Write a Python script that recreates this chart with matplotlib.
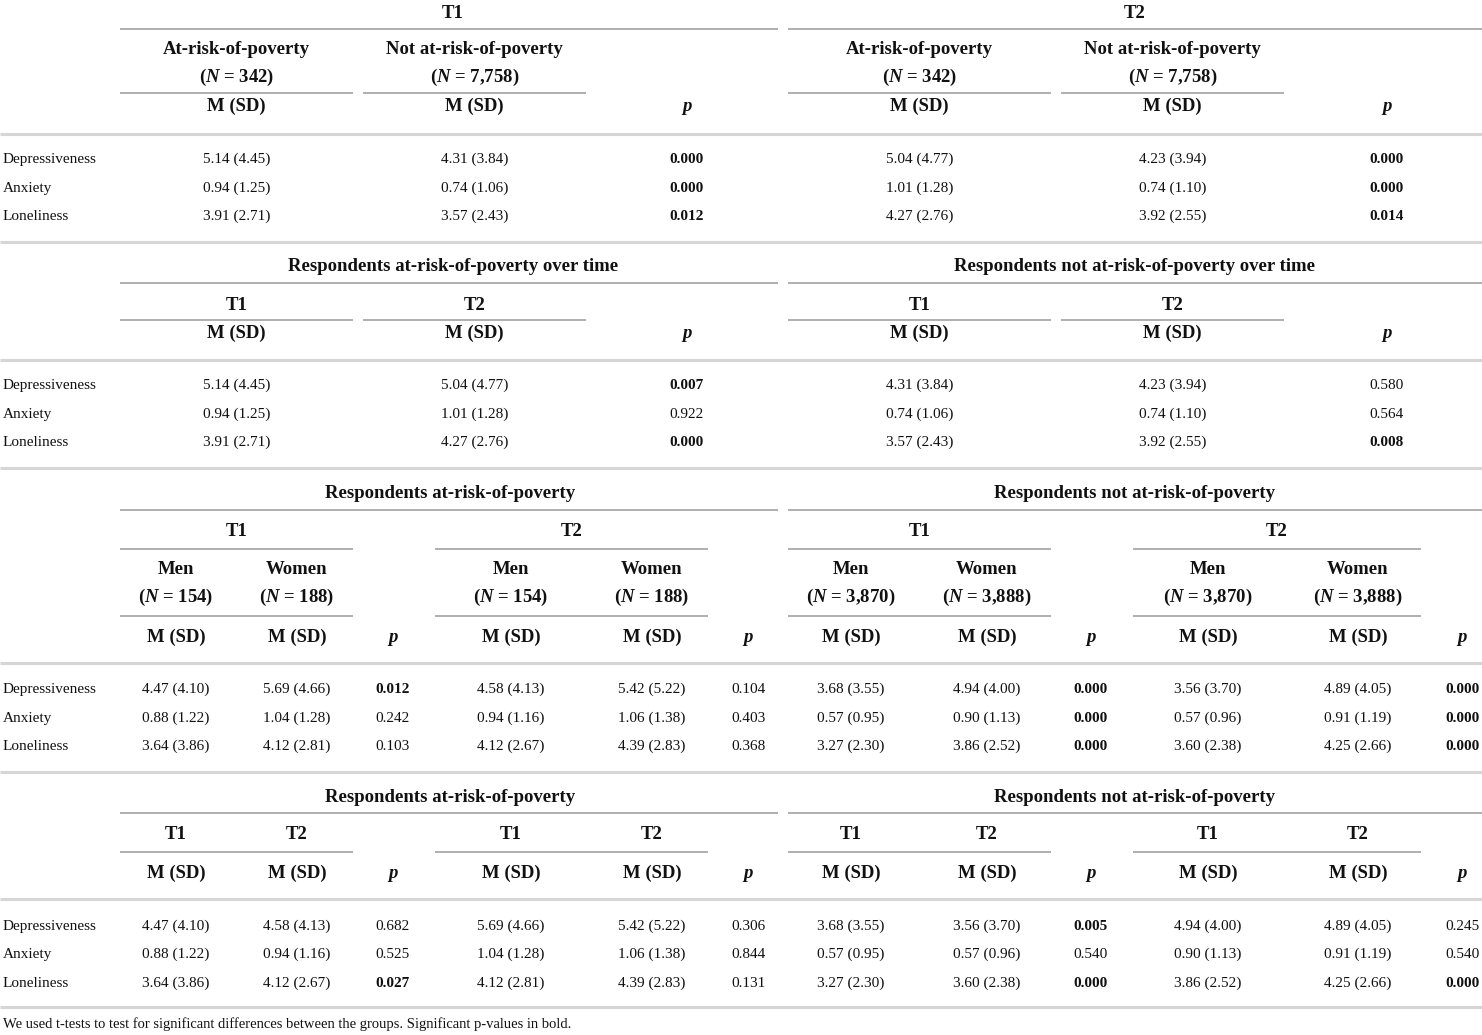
import matplotlib.pyplot as plt

plt.rcParams['font.family'] = ['Liberation Serif', 'DejaVu Serif']
plt.rcParams['mathtext.fontset'] = 'custom'
plt.rcParams['mathtext.rm'] = 'Liberation Serif:weight=bold'
plt.rcParams['mathtext.it'] = 'Liberation Serif:style=italic:weight=bold'
plt.rcParams['mathtext.bf'] = 'Liberation Serif:weight=bold'

# ---- data ----
rows = ["Depressiveness", "Anxiety", "Loneliness"]

n_at, n_not = "342", "7,758"
n_men_at, n_women_at = "154", "188"
n_men_not, n_women_not = "3,870", "3,888"

# whole groups
t1_at_m, t1_at_sd = [5.14, 0.94, 3.91], [4.45, 1.25, 2.71]
t1_not_m, t1_not_sd = [4.31, 0.74, 3.57], [3.84, 1.06, 2.43]
t2_at_m, t2_at_sd = [5.04, 1.01, 4.27], [4.77, 1.28, 2.76]
t2_not_m, t2_not_sd = [4.23, 0.74, 3.92], [3.94, 1.10, 2.55]
p_t1 = [0.000, 0.000, 0.012]
p_t2 = [0.000, 0.000, 0.014]
p_at_time = [0.007, 0.922, 0.000]
p_not_time = [0.580, 0.564, 0.008]

# by gender
men_at_t1_m, men_at_t1_sd = [4.47, 0.88, 3.64], [4.10, 1.22, 3.86]
women_at_t1_m, women_at_t1_sd = [5.69, 1.04, 4.12], [4.66, 1.28, 2.81]
men_at_t2_m, men_at_t2_sd = [4.58, 0.94, 4.12], [4.13, 1.16, 2.67]
women_at_t2_m, women_at_t2_sd = [5.42, 1.06, 4.39], [5.22, 1.38, 2.83]
men_not_t1_m, men_not_t1_sd = [3.68, 0.57, 3.27], [3.55, 0.95, 2.30]
women_not_t1_m, women_not_t1_sd = [4.94, 0.90, 3.86], [4.00, 1.13, 2.52]
men_not_t2_m, men_not_t2_sd = [3.56, 0.57, 3.60], [3.70, 0.96, 2.38]
women_not_t2_m, women_not_t2_sd = [4.89, 0.91, 4.25], [4.05, 1.19, 2.66]
p_at_t1_sex = [0.012, 0.242, 0.103]
p_at_t2_sex = [0.104, 0.403, 0.368]
p_not_t1_sex = [0.000, 0.000, 0.000]
p_not_t2_sex = [0.000, 0.000, 0.000]
p_at_men_time = [0.682, 0.525, 0.027]
p_at_women_time = [0.306, 0.844, 0.131]
p_not_men_time = [0.005, 0.540, 0.000]
p_not_women_time = [0.245, 0.540, 0.000]

footnote = "We used t-tests to test for significant differences between the groups. Significant p-values in bold."

# ---- drawing ----
W, H = 1482, 1035
fig = plt.figure(figsize=(W / 100, H / 100), dpi=100)
ax = fig.add_axes([0, 0, 1, 1])
ax.set_xlim(0, W)
ax.set_ylim(H, 0)
ax.axis("off")

HEAD = 13.5
BODY = 11


def txt(x, y, s, size=BODY, bold=False, italic=False, ha="center"):
    # y is the visual middle of digits / capitals; place on baseline
    ax.text(x, y + size * 0.46, s, fontsize=size, ha=ha, va="baseline",
            fontweight="bold" if bold else "normal",
            fontstyle="italic" if italic else "normal", color="#111111")


def head(x, y, s, italic=False):
    txt(x, y, s, HEAD, bold=True, italic=italic)


def rule(y):
    ax.plot([0, W], [y, y], color="#d6d6d6", lw=2.2, solid_capstyle="butt")


def span(x0, x1, y):
    ax.plot([x0, x1], [y, y], color="#a9a9a9", lw=1.3, solid_capstyle="butt")


def msd(m, sd):
    return ["%.2f (%.2f)" % (a, b) for a, b in zip(m, sd)]


def pcol(x, ys, ps):
    for y, p in zip(ys, ps):
        txt(x, y, "%.3f" % p, bold=p < 0.05)


def col(x, ys, vals):
    for y, v in zip(ys, vals):
        txt(x, y, v)


def labels(ys):
    for y, r in zip(ys, rows):
        txt(3, y, r, ha="left")


def nlab(n):
    return r"($\mathit{N}$ = %s)" % n


# column spans for the two-column halves (sections 1 and 2)
halves = [((120, 353), (363, 586), 687), ((788, 1051), (1061, 1284), 1387)]

# section 1: at-risk vs not at T1 and T2
head(453, 12, "T1")
head(1135, 12, "T2")
span(120, 778, 29)
span(788, W, 29)
ys = [158, 187, 215]
data1 = [(t1_at_m, t1_at_sd, t1_not_m, t1_not_sd, p_t1),
         (t2_at_m, t2_at_sd, t2_not_m, t2_not_sd, p_t2)]
for (c1, c2, xp), (m1, s1, m2, s2, pp) in zip(halves, data1):
    x1, x2 = sum(c1) / 2, sum(c2) / 2
    head(x1, 48, "At-risk-of-poverty")
    head(x2, 48, "Not at-risk-of-poverty")
    head(x1, 76, nlab(n_at))
    head(x2, 76, nlab(n_not))
    span(*c1, 93)
    span(*c2, 93)
    head(x1, 105, "M (SD)")
    head(x2, 105, "M (SD)")
    head(xp, 105, "p", italic=True)
    col(x1, ys, msd(m1, s1))
    col(x2, ys, msd(m2, s2))
    pcol(xp, ys, pp)
rule(134)
labels(ys)
rule(242)

# section 2: change over time
head(453, 265, "Respondents at-risk-of-poverty over time")
head(1135, 265, "Respondents not at-risk-of-poverty over time")
span(120, 778, 283)
span(788, W, 283)
ys = [384, 413, 441]
data2 = [(t1_at_m, t1_at_sd, t2_at_m, t2_at_sd, p_at_time),
         (t1_not_m, t1_not_sd, t2_not_m, t2_not_sd, p_not_time)]
for (c1, c2, xp), (m1, s1, m2, s2, pp) in zip(halves, data2):
    x1, x2 = sum(c1) / 2, sum(c2) / 2
    head(x1, 304, "T1")
    head(x2, 304, "T2")
    span(*c1, 320)
    span(*c2, 320)
    head(x1, 332, "M (SD)")
    head(x2, 332, "M (SD)")
    head(xp, 332, "p", italic=True)
    col(x1, ys, msd(m1, s1))
    col(x2, ys, msd(m2, s2))
    pcol(xp, ys, pp)
rule(360)
labels(ys)
rule(468)

# four blocks for sections 3 and 4
quarters = [(120, 353, 176, 297, 393), (435, 708, 511, 652, 748),
            (788, 1051, 851, 987, 1091), (1133, 1421, 1208, 1358, 1462)]

# section 3: men vs women
head(450, 492, "Respondents at-risk-of-poverty")
head(1135, 492, "Respondents not at-risk-of-poverty")
span(120, 778, 510)
span(788, W, 510)
ys = [688, 717, 745]
data3 = [
    ("T1", n_men_at, n_women_at, men_at_t1_m, men_at_t1_sd, women_at_t1_m, women_at_t1_sd, p_at_t1_sex),
    ("T2", n_men_at, n_women_at, men_at_t2_m, men_at_t2_sd, women_at_t2_m, women_at_t2_sd, p_at_t2_sex),
    ("T1", n_men_not, n_women_not, men_not_t1_m, men_not_t1_sd, women_not_t1_m, women_not_t1_sd, p_not_t1_sex),
    ("T2", n_men_not, n_women_not, men_not_t2_m, men_not_t2_sd, women_not_t2_m, women_not_t2_sd, p_not_t2_sex),
]
for (a, b, x1, x2, xp), (t, nm, nw, m1, s1, m2, s2, pp) in zip(quarters, data3):
    head((a + b) / 2, 530, t)
    span(a, b, 549)
    head(x1, 568, "Men")
    head(x2, 568, "Women")
    head(x1, 596, nlab(nm))
    head(x2, 596, nlab(nw))
    span(a, b, 616)
    head(x1, 636, "M (SD)")
    head(x2, 636, "M (SD)")
    head(xp, 636, "p", italic=True)
    col(x1, ys, msd(m1, s1))
    col(x2, ys, msd(m2, s2))
    pcol(xp, ys, pp)
rule(663)
labels(ys)
rule(772)

# section 4: men and women over time
head(450, 796, "Respondents at-risk-of-poverty")
head(1135, 796, "Respondents not at-risk-of-poverty")
span(120, 778, 813)
span(788, W, 813)
ys = [925, 953, 982]
data4 = [
    (men_at_t1_m, men_at_t1_sd, men_at_t2_m, men_at_t2_sd, p_at_men_time),
    (women_at_t1_m, women_at_t1_sd, women_at_t2_m, women_at_t2_sd, p_at_women_time),
    (men_not_t1_m, men_not_t1_sd, men_not_t2_m, men_not_t2_sd, p_not_men_time),
    (women_not_t1_m, women_not_t1_sd, women_not_t2_m, women_not_t2_sd, p_not_women_time),
]
for (a, b, x1, x2, xp), (m1, s1, m2, s2, pp) in zip(quarters, data4):
    head(x1, 833, "T1")
    head(x2, 833, "T2")
    span(a, b, 852)
    head(x1, 872, "M (SD)")
    head(x2, 872, "M (SD)")
    head(xp, 872, "p", italic=True)
    col(x1, ys, msd(m1, s1))
    col(x2, ys, msd(m2, s2))
    pcol(xp, ys, pp)
rule(899)
labels(ys)
rule(1007)

txt(3, 1023, footnote, 10.5, ha="left")

fig.savefig("out.png", dpi=100, facecolor="white")
